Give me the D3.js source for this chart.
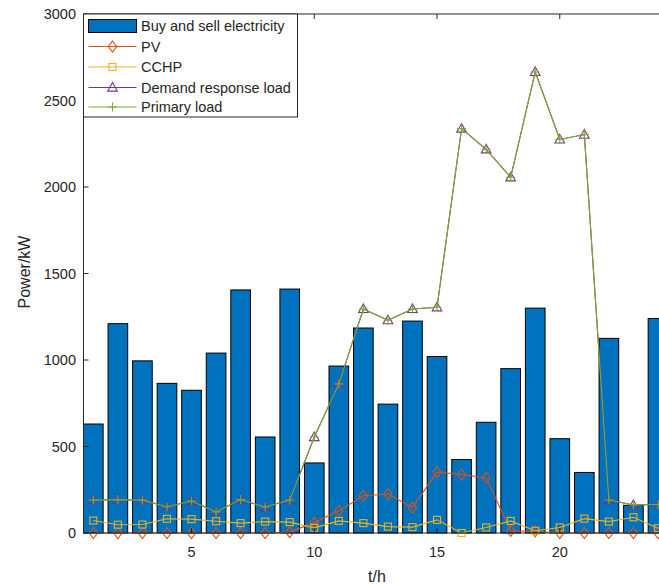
<!DOCTYPE html>
<html>
<head>
<meta charset="utf-8">
<script src="https://cdn.jsdelivr.net/npm/d3@7"></script>
<style>
  body { margin: 0; background: #fff; }
  text { font-family: "Liberation Sans", Arial, Helvetica, sans-serif; fill: #262626; }
</style>
</head>
<body>
<div id="chart"></div>
<script>
const hours = [1, 2, 3, 4, 5, 6, 7, 8, 9, 10, 11, 12, 13, 14, 15, 16, 17, 18, 19, 20, 21, 22, 23, 24];
const buySell = [630, 1210, 995, 865, 825, 1040, 1405, 555, 1410, 405, 965, 1185, 745, 1225, 1020, 425, 640, 950, 1300, 545, 350, 1125, 160, 1240];
const pv = [0, 0, 0, 0, 0, 0, 0, 0, 5, 60, 128, 215, 225, 147, 352, 338, 320, 12, 10, 0, 0, 0, 0, 0];
const cchp = [72, 48, 49, 82, 80, 68, 57, 66, 63, 30, 70, 57, 37, 34, 76, 0, 32, 70, 13, 32, 83, 66, 91, 28];
const demandLoad = [190, 193, 190, 152, 185, 122, 193, 150, 190, 555, 862, 1295, 1230, 1295, 1305, 2338, 2218, 2056, 2665, 2275, 2303, 191, 162, 165];
const primaryLoad = [190, 193, 190, 152, 185, 122, 193, 150, 190, 555, 862, 1295, 1230, 1295, 1305, 2338, 2218, 2056, 2665, 2275, 2303, 191, 162, 165];
const xTicks = [5, 10, 15, 20];
const yTicks = [0, 500, 1000, 1500, 2000, 2500, 3000];
const seriesNames = ['Buy and sell electricity', 'PV', 'CCHP', 'Demand response load', 'Primary load'];

const W = 659, H = 584;
const plot = { left: 83.5, top: 14, bottom: 533, right: 667.8 };
const dark = '#262626';

const svg = d3.select('#chart').append('svg')
    .attr('width', W)
    .attr('height', H);

const x = d3.scaleLinear().domain([0.6, 24.4]).range([plot.left, plot.right]);
const y = d3.scaleLinear().domain([0, 3000]).range([plot.bottom, plot.top]);
const barW = x(0.8) - x(0);

// bars
svg.append('g').selectAll('rect')
    .data(buySell)
    .join('rect')
    .attr('x', (d, i) => x(hours[i]) - barW / 2)
    .attr('y', d => y(d))
    .attr('width', barW)
    .attr('height', d => y(0) - y(d))
    .attr('fill', '#0072BD')
    .attr('stroke', '#000')
    .attr('stroke-width', 1);

// marker shapes
const markers = {
    diamond: (g, c) => g.append('path').attr('d', 'M0,-5.5L4.2,0L0,5.5L-4.2,0Z')
        .attr('fill', 'none').attr('stroke', c),
    square: (g, c) => g.append('rect').attr('x', -3.5).attr('y', -3.5).attr('width', 7).attr('height', 7)
        .attr('fill', 'none').attr('stroke', c),
    triangle: (g, c) => g.append('path').attr('d', 'M0,-5L4.8,3.6L-4.8,3.6Z')
        .attr('fill', 'none').attr('stroke', c),
    plus: (g, c) => g.append('path').attr('d', 'M-4.5,0H4.5M0,-4.5V4.5')
        .attr('fill', 'none').attr('stroke', c)
};

const lines = [
    { values: pv, color: '#D95319', marker: 'diamond' },
    { values: cchp, color: '#EDB120', marker: 'square' },
    { values: demandLoad, color: '#7E2F8E', marker: 'triangle' },
    { values: primaryLoad, color: '#77AC30', marker: 'plus' }
];

const line = d3.line().x((d, i) => x(hours[i])).y(d => y(d));

lines.forEach(s => {
    svg.append('path')
        .datum(s.values)
        .attr('d', line)
        .attr('fill', 'none')
        .attr('stroke', s.color)
        .attr('stroke-width', 1.1);
    svg.append('g').selectAll('g')
        .data(s.values)
        .join('g')
        .attr('transform', (d, i) => `translate(${x(hours[i])},${y(d)})`)
        .each(function () { markers[s.marker](d3.select(this), s.color).attr('stroke-width', 1.1); });
});

// axes box
const axes = svg.append('g').attr('stroke', dark).attr('stroke-width', 1).attr('fill', 'none');
axes.append('line').attr('x1', plot.left).attr('x2', W).attr('y1', plot.bottom).attr('y2', plot.bottom);
axes.append('line').attr('x1', plot.left).attr('x2', W).attr('y1', plot.top).attr('y2', plot.top);
axes.append('line').attr('x1', plot.left).attr('x2', plot.left).attr('y1', plot.top).attr('y2', plot.bottom);

const tickLen = 5;
xTicks.forEach(t => {
    axes.append('line').attr('x1', x(t)).attr('x2', x(t)).attr('y1', plot.bottom).attr('y2', plot.bottom - tickLen);
    axes.append('line').attr('x1', x(t)).attr('x2', x(t)).attr('y1', plot.top).attr('y2', plot.top + tickLen);
});
yTicks.forEach(t => {
    axes.append('line').attr('x1', plot.left).attr('x2', plot.left + tickLen).attr('y1', y(t)).attr('y2', y(t));
});

svg.append('g').selectAll('text')
    .data(xTicks)
    .join('text')
    .attr('x', d => x(d))
    .attr('y', 557)
    .attr('text-anchor', 'middle')
    .style('font-size', '14.5px')
    .text(d => d);

svg.append('g').selectAll('text')
    .data(yTicks)
    .join('text')
    .attr('x', 76)
    .attr('y', d => y(d) + 5)
    .attr('text-anchor', 'end')
    .style('font-size', '14.5px')
    .text(d => d);

svg.append('text')
    .attr('x', 377)
    .attr('y', 582)
    .attr('text-anchor', 'middle')
    .style('font-size', '16px')
    .text('t/h');

svg.append('text')
    .attr('transform', 'translate(30,272) rotate(-90)')
    .attr('text-anchor', 'middle')
    .style('font-size', '16px')
    .text('Power/kW');

// legend
const lg = svg.append('g');
lg.append('rect')
    .attr('x', plot.left).attr('y', plot.top)
    .attr('width', 214).attr('height', 103)
    .attr('fill', '#fff').attr('stroke', dark).attr('stroke-width', 1);

const rowY = [26, 46.5, 67, 87.5, 107];
lg.append('rect')
    .attr('x', 88.5).attr('y', 19.5).attr('width', 48).attr('height', 13)
    .attr('fill', '#0072BD').attr('stroke', '#000').attr('stroke-width', 1);
lines.forEach((s, i) => {
    const ry = rowY[i + 1];
    lg.append('line').attr('x1', 88.5).attr('x2', 136.5).attr('y1', ry).attr('y2', ry)
        .attr('stroke', s.color).attr('stroke-width', 1.1);
    const m = lg.append('g').attr('transform', `translate(112.5,${ry})`);
    markers[s.marker](m, s.color).attr('stroke-width', 1.1);
});
lg.selectAll('text.lab')
    .data(seriesNames)
    .join('text')
    .attr('class', 'lab')
    .attr('x', 141)
    .attr('y', (d, i) => rowY[i] + 5)
    .style('font-size', '14.5px')
    .text(d => d);
</script>
</body>
</html>
